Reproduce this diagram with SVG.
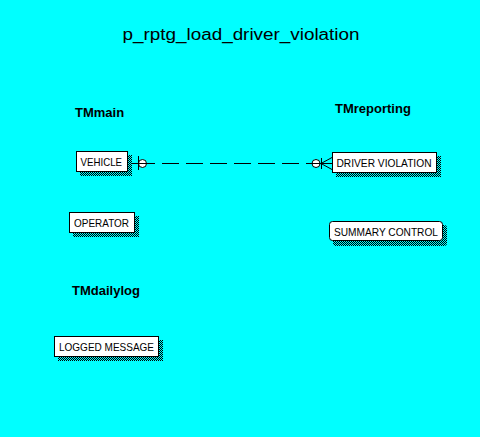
<svg xmlns="http://www.w3.org/2000/svg" width="480" height="437" viewBox="0 0 480 437">
  <defs>
    <pattern id="dither" width="2" height="2" patternUnits="userSpaceOnUse">
      <rect x="0" y="0" width="2" height="2" fill="#00ffff"/>
      <rect x="0" y="0" width="1" height="1" fill="#000"/>
      <rect x="1" y="1" width="1" height="1" fill="#000"/>
    </pattern>
  </defs>
  <style>
    .title { font-family: "Liberation Sans", Arial, sans-serif; font-size: 16px; fill: #000; }
    .area { font-family: "Liberation Sans", Arial, sans-serif; font-size: 13px; font-weight: bold; fill: #000; }
    .lbl { font-family: "Liberation Sans", Arial, sans-serif; font-size: 11.5px; fill: #000; }
    .box { fill: #fff; stroke: #000; stroke-width: 1; }
    .shadow { fill: url(#dither); }
    .ln { stroke: #000; stroke-width: 1; fill: none; }
    .circ { fill: #fff; stroke: #000; stroke-width: 1; }
  </style>
  <rect x="0" y="0" width="480" height="437" fill="#00ffff"/>
  <text class="title" x="122.5" y="40" textLength="237" lengthAdjust="spacingAndGlyphs">p_rptg_load_driver_violation</text>
  <text class="area" x="75" y="117">TMmain</text>
  <text class="area" x="335" y="113">TMreporting</text>
  <text class="area" x="72" y="295">TMdailylog</text>

  <g id="connectors">
    <circle class="circ" cx="142.5" cy="163.5" r="4"/>
    <circle class="circ" cx="316" cy="163.5" r="4"/>
    <line class="ln" x1="128" y1="163.5" x2="138" y2="163.5"/>
    <line class="ln" x1="138" y1="163.5" x2="322" y2="163.5" stroke-dasharray="17 7"/>
    <line class="ln" x1="138.5" y1="156" x2="138.5" y2="170"/>
    <line class="ln" x1="321.5" y1="158" x2="321.5" y2="169"/>
    <path class="ln" d="M321,163.5 L332,157.5 M321,163.5 L332,163.5 M321,163.5 L332,169.5"/>
  </g>

  <g id="vehicle">
    <rect class="shadow" x="80" y="155" width="52" height="21"/>
    <rect class="box" x="76.5" y="151.5" width="51" height="20"/>
    <text class="lbl" x="80.5" y="166" textLength="41.5" lengthAdjust="spacingAndGlyphs">VEHICLE</text>
  </g>
  <g id="operator">
    <rect class="shadow" x="73" y="216" width="66" height="21"/>
    <rect class="box" x="69.5" y="212.5" width="65" height="20"/>
    <text class="lbl" x="74" y="226.5" textLength="55" lengthAdjust="spacingAndGlyphs">OPERATOR</text>
  </g>
  <g id="driver-violation">
    <rect class="shadow" x="336" y="156" width="105" height="21"/>
    <rect class="box" x="332.5" y="152.5" width="104" height="20"/>
    <text class="lbl" x="336.5" y="167" textLength="95" lengthAdjust="spacingAndGlyphs">DRIVER VIOLATION</text>
  </g>
  <g id="summary-control">
    <rect class="shadow" x="333" y="225" width="114" height="21" rx="3"/>
    <rect class="box" x="329.5" y="221.5" width="113" height="19" rx="3"/>
    <text class="lbl" x="334" y="235.5" textLength="104" lengthAdjust="spacingAndGlyphs">SUMMARY CONTROL</text>
  </g>
  <g id="logged-message">
    <rect class="shadow" x="58" y="340" width="105" height="21"/>
    <rect class="box" x="54.5" y="336.5" width="104" height="20"/>
    <text class="lbl" x="59" y="350.5" textLength="95" lengthAdjust="spacingAndGlyphs">LOGGED MESSAGE</text>
  </g>
</svg>
